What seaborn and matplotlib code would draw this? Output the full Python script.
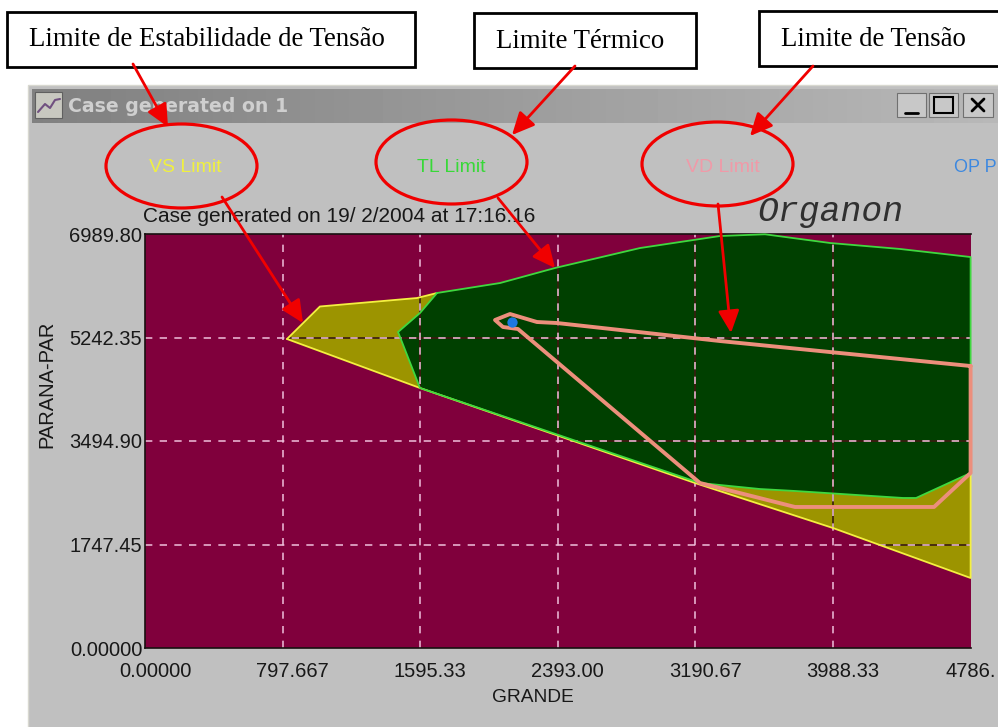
"""Organon security region screenshot with annotated limits."""

import numpy as np
import matplotlib.pyplot as plt
from matplotlib.patches import Ellipse, Polygon, Rectangle
from matplotlib.transforms import ScaledTranslation
import seaborn as sns

# region boundaries (GRANDE, PARANA-PAR)
vs_upper_x = [823, 1014, 1577, 1693]
vs_upper_y = [5217, 5766, 5909, 5994]
vs_lower_x = [823, 1594, 3188, 3988, 4786, 4786, 4786]
vs_lower_y = [5217, 4390, 2786, 2026, 1182, 2000, 2955]

tl_x = [1693, 2058, 2377, 2870, 3333, 3594, 3971, 4377, 4786, 4786, 4470, 4394,
        4128, 3768, 3565, 3217, 1594, 1467, 1594, 1693]
tl_y = [5994, 6162, 6416, 6753, 6956, 6985, 6838, 6737, 6601, 2955, 2533, 2533,
        2583, 2651, 2684, 2786, 4390, 5335, 5656, 5994]

vd_x = [4786, 3971, 3333, 2388, 2272, 2116, 2029, 2075, 2162, 3217, 3768, 4574, 4786, 4786]
vd_y = [4761, 4997, 5183, 5487, 5504, 5639, 5538, 5420, 5386, 2786, 2381, 2381, 2955, 4761]

op_x = [2125]
op_y = [5500]

x_ticks = [0.0, 797.667, 1595.33, 2393.0, 3190.67, 3988.33, 4786.0]
x_tick_labels = ["0.00000", "797.667", "1595.33", "2393.00", "3190.67", "3988.33", "4786."]
y_ticks = [0.0, 1747.45, 3494.9, 5242.35, 6989.8]
y_tick_labels = ["0.00000", "1747.45", "3494.90", "5242.35", "6989.80"]

box_labels = ["Limite de Estabilidade de Tensão", "Limite Térmico", "Limite de Tensão"]

MAROON = "#80003c"
DARK_GREEN = "#004000"
OLIVE = "#9c9400"
YELLOW = "#f4f040"
LIME = "#3fd83f"
SALMON = "#ec8f7c"
WIN_GREY = "#c0c0c0"
SANS = "Liberation Sans"
SERIF = "Liberation Serif"

sns.set_theme(style="white")
plt.rcParams["font.family"] = [SANS, "DejaVu Sans"]

fig = plt.figure(figsize=(9.98, 7.27), dpi=100, facecolor="white")

# background layer in pixel coordinates: the window
bg = fig.add_axes([0, 0, 1, 1], zorder=0)
bg.set_xlim(0, 998)
bg.set_ylim(727, 0)
bg.axis("off")
bg.add_patch(Rectangle((28, 85), 975, 650, fc=WIN_GREY, ec="#d8d8d0", lw=1, zorder=0.5))
grad = np.linspace(128, 184, 256).reshape(1, -1)
bg.imshow(grad, extent=(32, 998, 123, 89), aspect="auto", cmap="gray", vmin=0, vmax=255, zorder=0.7)
bg.set_xlim(0, 998)
bg.set_ylim(727, 0)

bg.add_patch(Rectangle((35, 92), 27, 26, fc="#c8c8c0", ec="#606060", lw=0.8))
bg.plot([38, 45, 50, 55, 60], [112, 104, 108, 100, 99], color="#705080", lw=1.5)
bg.text(68, 106, "Case generated on 1", family="DejaVu Sans", weight="bold", fontsize=13.6,
        color="#cfcfcf", va="center", ha="left")

for left, right in [(897, 926), (929, 958), (963, 993)]:
    bg.add_patch(Rectangle((left, 93), right - left, 24, fc="#c8c8c8", ec="#707070", lw=0.8))
bg.plot([905, 918], [113, 113], color="black", lw=2)
bg.add_patch(Rectangle((934, 97), 19, 16, fc="none", ec="black", lw=1.5))
bg.plot([972, 984], [99, 111], color="black", lw=2)
bg.plot([972, 984], [111, 99], color="black", lw=2)

bg.text(185, 168, "VS Limit", color="#f0f040", fontsize=14, ha="center", va="center")
bg.text(451, 168, "TL Limit", color="#38d838", fontsize=14, ha="center", va="center")
bg.text(723, 168, "VD Limit", color="#f09aa8", fontsize=14, ha="center", va="center")
bg.text(954, 168, "OP P", color="#3c88e0", fontsize=13, ha="left", va="center")
bg.text(143, 217, "Case generated on 19/ 2/2004 at 17:16:16", color="#181818", fontsize=15,
        ha="left", va="center")
bg.text(757, 211, "Organon", family="Liberation Mono", style="italic", color="#303030",
        fontsize=25, ha="left", va="center")
bg.text(47, 384, "PARANA-PAR", color="#181818", fontsize=14.5, rotation=90, ha="center", va="center")
bg.text(533, 697, "GRANDE", color="#181818", fontsize=13.8, ha="center", va="center")

# the plot itself
ax = fig.add_axes([145 / 998, 1 - 648 / 727, 825.6 / 998, 414 / 727], zorder=1)
ax.set_facecolor(MAROON)
ax.set_xlim(0, 4786)
ax.set_ylim(0, 6989.8)

vs_poly_x = vs_upper_x + vs_lower_x[::-1]
vs_poly_y = vs_upper_y + vs_lower_y[::-1]
olive = Polygon(np.column_stack([vs_poly_x, vs_poly_y]), closed=True, fc=OLIVE, ec="none", zorder=1)
ax.add_patch(olive)
green = Polygon(np.column_stack([tl_x, tl_y]), closed=True, fc=DARK_GREEN, ec="none", zorder=1.5)
ax.add_patch(green)

# dark gaps of the XOR-drawn grid over the filled regions
for patch in (olive, green):
    for xv in x_ticks[1:-1]:
        ln = ax.axvline(xv, color="#3a1c10", lw=1.2, zorder=1.8)
        ln.set_clip_path(patch)
    for yv in y_ticks[1:-1]:
        ln = ax.axhline(yv, color="#3a1c10", lw=1.2, zorder=1.8)
        ln.set_clip_path(patch)

for xv in x_ticks[1:-1]:
    ax.axvline(xv, color="#f0c0dc", lw=1.1, ls=(0, (4.8, 4.8)), zorder=2)
for yv in y_ticks[1:-1]:
    ax.axhline(yv, color="#f0c0dc", lw=1.1, ls=(0, (4.8, 4.8)), zorder=2)

sns.lineplot(x=vs_upper_x, y=vs_upper_y, sort=False, estimator=None, color=YELLOW, lw=1.3, ax=ax, zorder=3)
sns.lineplot(x=vs_lower_x, y=vs_lower_y, sort=False, estimator=None, color=YELLOW, lw=1.3, ax=ax, zorder=3)
sns.lineplot(x=tl_x, y=tl_y, sort=False, estimator=None, color=LIME, lw=1.3, ax=ax, zorder=3.2)
sns.lineplot(x=vd_x, y=vd_y, sort=False, estimator=None, color=SALMON, lw=2.8, ax=ax, zorder=4)
for line in ax.lines[-4:]:
    line.set_clip_on(False)
sns.scatterplot(x=op_x, y=op_y, color="#1c78e0", s=55, linewidth=0, ax=ax, zorder=5)

ax.set_xticks(x_ticks, x_tick_labels)
ax.set_yticks(y_ticks, y_tick_labels)
ax.tick_params(axis="both", length=0, labelsize=14.5, labelcolor="#181818", pad=2)
ax.tick_params(axis="x", pad=10)
ax.set_xlim(0, 4786)
ax.set_ylim(0, 6989.8)
for name, spine in ax.spines.items():
    spine.set_color("#181010")
    spine.set_linewidth(1.2)
ax.spines["right"].set_visible(False)

# the x labels sit to the right of their grid lines in the original
for label in ax.get_xticklabels():
    label.set_transform(label.get_transform() + ScaledTranslation(10 / 100, 0, fig.dpi_scale_trans))
last = ax.get_xticklabels()[-1]
last.set_ha("left")
last.set_transform(last.get_transform() + ScaledTranslation(-35 / 100, 0, fig.dpi_scale_trans))

# annotation layer in pixel coordinates
top = fig.add_axes([0, 0, 1, 1], zorder=2)
top.set_xlim(0, 998)
top.set_ylim(727, 0)
top.axis("off")
top.patch.set_alpha(0)

for (left, right, upper, lower), label, text_x in zip(
        [(7, 415, 12, 67), (474, 696, 13, 68), (759, 1010, 11, 66)], box_labels, [29, 496, 781]):
    top.add_patch(Rectangle((left, upper), right - left, lower - upper, fc="white", ec="black", lw=2))
    top.text(text_x, (upper + lower) / 2 + 0.5, label, family=SERIF, fontsize=19.3, color="black",
             ha="left", va="center")

for cx, cy in [(181.5, 166), (451.5, 162), (717.5, 164)]:
    top.add_patch(Ellipse((cx, cy), 151, 84, fc="none", ec="#f00000", lw=2.3))

arrows = [((133, 64), (168, 127)), ((575, 66), (512, 135)), ((813, 66), (750, 136)),
          ((222, 197), (303, 323)), ((498, 198), (555, 268)), ((718, 204), (731, 333))]
for start, end in arrows:
    top.annotate("", xy=end, xytext=start,
                 arrowprops=dict(arrowstyle="-|>,head_length=0.85,head_width=0.4", color="#f00000",
                                 lw=2.0, mutation_scale=16, shrinkA=0, shrinkB=0))

fig.savefig("out.png", dpi=100)
